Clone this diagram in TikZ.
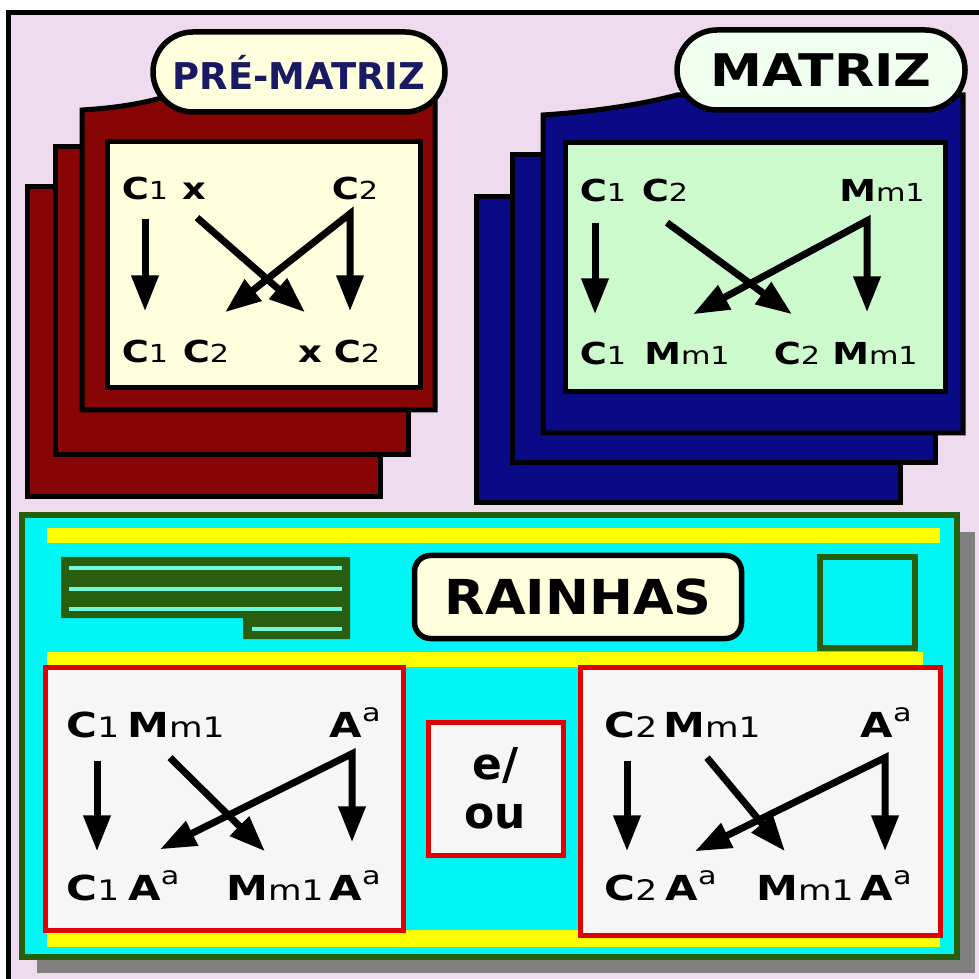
\documentclass[tikz,border=0pt]{standalone}
\usepackage{fontspec}
\setmainfont{DejaVu Sans}
\newfontfamily\panelfont{DejaVu Sans}[FakeStretch=1.22]
\usetikzlibrary{arrows.meta,calc}

\definecolor{bgpink}{RGB}{238,220,238}
\definecolor{cardred}{RGB}{135,5,5}
\definecolor{cardblue}{RGB}{10,10,135}
\definecolor{panelcream}{RGB}{255,255,221}
\definecolor{panelgreen}{RGB}{204,250,204}
\definecolor{pillgreen}{RGB}{240,255,240}
\definecolor{navytext}{RGB}{25,25,100}
\definecolor{cyanfill}{RGB}{0,245,245}
\definecolor{leafgreen}{RGB}{40,95,15}
\definecolor{linecyan}{RGB}{110,250,220}
\definecolor{boxred}{RGB}{225,0,0}
\definecolor{boxwhite}{RGB}{246,246,246}
\definecolor{bandyellow}{RGB}{255,255,0}
\definecolor{shadowgray}{RGB}{128,128,128}

\newcommand\subtx[1]{\scalebox{0.82}{\mdseries #1}}
\newcommand\suptx[1]{\raisebox{0.45em}{\scalebox{0.72}{\mdseries #1}}}

\begin{document}
\begin{tikzpicture}[x=0.1mm, y=-0.1mm,
  card/.style={draw=black, line width=0.5mm},
  pill/.style={draw=black, line width=0.55mm, rounded corners=4mm, inner sep=0pt, font=\bfseries},
  term/.style={font=\panelfont\bfseries\fontsize{8.6}{10}\selectfont, inner sep=0pt, anchor=base, text height=2.2mm, text depth=0mm},
  termb/.style={term, font=\panelfont\bfseries\fontsize{9.8}{11}\selectfont, text height=2.5mm},
  redbox/.style={draw=boxred, line width=0.5mm, fill=boxwhite},
  band/.style={fill=bandyellow},
  arr/.style={line width=0.7mm, -{Triangle[length=3.6mm, width=2.6mm]}},
  fork/.style={line width=0.7mm, {Triangle[length=3.6mm, width=2.6mm]}-{Triangle[length=3.6mm, width=2.6mm]}, line join=miter},
]
\useasboundingbox (0,0) rectangle (979,979);

% === BACKGROUND ===
\fill[white] (0,0) rectangle (979,979);
\fill[bgpink] (8,13) rectangle (979,979);
\draw[line width=0.5mm] (8,979) -- (8,13) -- (979,13);

% === PRE-MATRIZ (red stack) ===
\filldraw[card, fill=cardred] (27,187) rectangle (380,497);
\filldraw[card, fill=cardred] (55,147) rectangle (408,455);
\filldraw[card, fill=cardred] (82,410) -- (82,110) .. controls (115,108) and (140,104) .. (165,97) -- (435,97) -- (435,410) -- cycle;
\filldraw[card, fill=panelcream] (107,142) rectangle (420,388);
\node[pill, fill=panelcream, minimum width=29.2mm, minimum height=8mm, text=navytext, font=\bfseries\fontsize{10.5}{12}\selectfont] (prem) at (299,72) {PRÉ-MATRIZ};

\node[term] (pc1) at (145,200) {C\subtx{1}};
\node[term] (px) at (194,200) {x};
\node[term] (pc2) at (355,200) {C\subtx{2}};
\node[term] (qc1) at (145,363) {C\subtx{1}};
\node[term] (qc2) at (206,363) {C\subtx{2}};
\node[term] (qx) at (310,363) {x};
\node[term] (qc2b) at (357,363) {C\subtx{2}};

\draw[arr] ([yshift=-1.8mm]pc1.south) -- ([yshift=2.9mm]qc1.north);
\draw[arr] ([xshift=0.3mm,yshift=-1.7mm]px.south) -- ([xshift=-0.5mm,yshift=2.8mm]qx.north);
\draw[fork] ([xshift=1.9mm,yshift=2.8mm]qc2.north) -- ([xshift=-0.5mm,yshift=-1.3mm]pc2.south) -- ([xshift=-0.7mm,yshift=2.9mm]qc2b.north);

% === MATRIZ (blue stack) ===
\filldraw[card, fill=cardblue] (476,197) rectangle (900,503);
\filldraw[card, fill=cardblue] (512,155) rectangle (935,463);
\filldraw[card, fill=cardblue] (543,433) -- (543,115) .. controls (590,112) and (640,105) .. (677,95) -- (963,95) -- (963,433) -- cycle;
\filldraw[card, fill=panelgreen] (565,143) rectangle (945,392);
\node[pill, fill=pillgreen, minimum width=28.8mm, minimum height=8mm, font=\bfseries\fontsize{12.8}{14}\selectfont] (mat) at (821,70) {\scalebox{1.16}[1]{MATRIZ}};

\node[term] (mc1) at (603,202) {C\subtx{1}};
\node[term] (mc2) at (665,202) {C\subtx{2}};
\node[term] (mm) at (882,202) {M\subtx{m1}};
\node[term] (nc1) at (603,365) {C\subtx{1}};
\node[term] (nm) at (687,365) {M\subtx{m1}};
\node[term] (nc2) at (797,365) {C\subtx{2}};
\node[term] (nm2) at (875,365) {M\subtx{m1}};

\draw[arr] ([xshift=-0.8mm,yshift=-2mm]mc1.south) -- ([xshift=-0.8mm,yshift=2.8mm]nc1.north);
\draw[arr] ([xshift=0.2mm,yshift=-2mm]mc2.south) -- ([xshift=-0.5mm,yshift=2.8mm]nc2.north);
\draw[fork] ([xshift=0.6mm,yshift=2.8mm]nm.north) -- ([xshift=-1.5mm,yshift=-1.8mm]mm.south) -- ([xshift=-0.8mm,yshift=3mm]nm2.north);

% === RAINHAS ===
\fill[shadowgray] (37,532) rectangle (975,973);
\filldraw[draw=leafgreen, line width=0.6mm, fill=cyanfill] (22,515) rectangle (957,957);
\fill[band] (47,528) rectangle (940,543);
\fill[band] (47,652) rectangle (923,667);
\fill[band] (47,930) rectangle (940,947);

\fill[leafgreen] (61,557) -- (350,557) -- (350,639) -- (243,639) -- (243,618) -- (61,618) -- cycle;
\foreach \yy in {568,589,609}
  \draw[linecyan, line width=0.35mm] (69,\yy) -- (342,\yy);
\draw[linecyan, line width=0.35mm] (252,629) -- (342,629);

\node[pill, fill=panelcream, rounded corners=1.6mm, minimum width=32.7mm, minimum height=8.3mm, font=\bfseries\fontsize{13.7}{15}\selectfont] (rain) at (578,597) {\scalebox{1.09}[1]{RAINHAS}};
\filldraw[draw=leafgreen, line width=0.6mm, fill=cyanfill] (820,557) rectangle (915,648);

\filldraw[redbox] (45,667) rectangle (403,930);
\filldraw[redbox] (580,667) rectangle (940,935);
\node[redbox, minimum width=13.5mm, minimum height=13.3mm, inner sep=0pt, align=center, font=\bfseries\fontsize{12.5}{13.8}\selectfont] (eou) at (495.5,788.5) {e/\\ou};

% left box
\node[termb] (lc1) at (93,737) {C\subtx{1}};
\node[termb] (lm) at (176,737) {M\subtx{m1}};
\node[termb] (la) at (355,737) {A\suptx{a}};
\node[termb] (kc1) at (93,900) {C\subtx{1}};
\node[termb] (ka) at (154,900) {A\suptx{a}};
\node[termb] (km) at (275,900) {M\subtx{m1}};
\node[termb] (ka2) at (355,900) {A\suptx{a}};

\draw[arr] ([xshift=0.4mm,yshift=-2.3mm]lc1.south) -- ([xshift=0.4mm,yshift=2.3mm]kc1.north);
\draw[arr] ([xshift=-0.6mm,yshift=-2mm]lm.south) -- ([xshift=-1mm,yshift=2.3mm]km.north);
\draw[fork] ([xshift=0.6mm,yshift=2.5mm]ka.north) -- ([xshift=-0.3mm,yshift=-1.6mm]la.south) -- ([xshift=-0.3mm,yshift=3.2mm]ka2.north);

% right box
\node[termb] (rc2) at (631,737) {C\subtx{2}};
\node[termb] (rm) at (712,737) {M\subtx{m1}};
\node[termb] (ra) at (886,737) {A\suptx{a}};
\node[termb] (sc2) at (631,900) {C\subtx{2}};
\node[termb] (sa) at (691,900) {A\suptx{a}};
\node[termb] (sm) at (805,900) {M\subtx{m1}};
\node[termb] (sa2) at (886,900) {A\suptx{a}};

\draw[arr] ([xshift=-0.4mm,yshift=-2.3mm]rc2.south) -- ([xshift=-0.4mm,yshift=2.3mm]sc2.north);
\draw[arr] ([xshift=-0.5mm,yshift=-2mm]rm.south) -- ([xshift=-2mm,yshift=2.3mm]sm.north);
\draw[fork] ([xshift=0.4mm,yshift=2.3mm]sa.north) -- ([xshift=-0.1mm,yshift=-2mm]ra.south) -- ([xshift=-0.1mm,yshift=2.3mm]sa2.north);
\end{tikzpicture}
\end{document}
